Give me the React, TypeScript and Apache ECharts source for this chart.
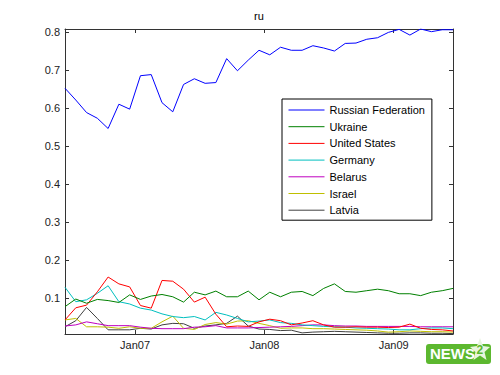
import { useEffect, useRef } from 'react';
import * as echarts from 'echarts';

const months = [
  'Jun06', 'Jul06', 'Aug06', 'Sep06', 'Oct06', 'Nov06', 'Dec06',
  'Jan07', 'Feb07', 'Mar07', 'Apr07', 'May07', 'Jun07', 'Jul07', 'Aug07', 'Sep07', 'Oct07', 'Nov07', 'Dec07',
  'Jan08', 'Feb08', 'Mar08', 'Apr08', 'May08', 'Jun08', 'Jul08', 'Aug08', 'Sep08', 'Oct08', 'Nov08', 'Dec08',
  'Jan09', 'Feb09', 'Mar09', 'Apr09', 'May09', 'Jun09',
];

const russia = [0.653, 0.622, 0.589, 0.574, 0.547, 0.611, 0.598, 0.686, 0.689, 0.615, 0.591, 0.663, 0.678, 0.666, 0.668, 0.731, 0.699, 0.727, 0.753, 0.741, 0.761, 0.753, 0.753, 0.765, 0.759, 0.751, 0.771, 0.772, 0.782, 0.786, 0.8, 0.808, 0.793, 0.809, 0.802, 0.807, 0.807];
const ukraine = [0.078, 0.098, 0.087, 0.097, 0.094, 0.089, 0.109, 0.097, 0.106, 0.11, 0.104, 0.09, 0.116, 0.109, 0.119, 0.104, 0.104, 0.119, 0.096, 0.116, 0.104, 0.116, 0.118, 0.107, 0.126, 0.138, 0.118, 0.116, 0.12, 0.124, 0.12, 0.112, 0.112, 0.107, 0.116, 0.12, 0.126];
const unitedStates = [0.043, 0.075, 0.082, 0.117, 0.156, 0.138, 0.13, 0.081, 0.074, 0.147, 0.145, 0.124, 0.09, 0.103, 0.058, 0.025, 0.027, 0.026, 0.038, 0.045, 0.041, 0.03, 0.035, 0.041, 0.03, 0.024, 0.024, 0.025, 0.024, 0.024, 0.023, 0.024, 0.032, 0.021, 0.018, 0.017, 0.014];
const germany = [0.129, 0.091, 0.096, 0.113, 0.133, 0.091, 0.085, 0.074, 0.069, 0.059, 0.052, 0.049, 0.052, 0.043, 0.063, 0.056, 0.047, 0.038, 0.04, 0.043, 0.036, 0.034, 0.03, 0.028, 0.026, 0.025, 0.024, 0.022, 0.021, 0.02, 0.019, 0.017, 0.017, 0.02, 0.022, 0.022, 0.02];
const belarus = [0.027, 0.03, 0.038, 0.033, 0.028, 0.028, 0.028, 0.024, 0.021, 0.02, 0.02, 0.02, 0.024, 0.025, 0.028, 0.022, 0.022, 0.022, 0.023, 0.024, 0.025, 0.026, 0.028, 0.03, 0.03, 0.028, 0.027, 0.027, 0.026, 0.026, 0.026, 0.026, 0.026, 0.025, 0.025, 0.025, 0.025];
const israel = [0.043, 0.047, 0.025, 0.025, 0.024, 0.021, 0.025, 0.021, 0.021, 0.038, 0.053, 0.021, 0.018, 0.031, 0.036, 0.032, 0.04, 0.041, 0.034, 0.028, 0.021, 0.022, 0.022, 0.02, 0.02, 0.019, 0.018, 0.017, 0.016, 0.014, 0.011, 0.012, 0.014, 0.013, 0.012, 0.012, 0.011];
const latvia = [0.025, 0.041, 0.076, 0.047, 0.017, 0.017, 0.017, 0.021, 0.019, 0.03, 0.034, 0.033, 0.021, 0.027, 0.03, 0.034, 0.053, 0.027, 0.019, 0.018, 0.015, 0.016, 0.009, 0.011, 0.012, 0.013, 0.012, 0.011, 0.01, 0.009, 0.008, 0.008, 0.009, 0.009, 0.008, 0.008, 0.007];

const seriesNames = ['Russian Federation', 'Ukraine', 'United States', 'Germany', 'Belarus', 'Israel', 'Latvia'];
const seriesValues = [russia, ukraine, unitedStates, germany, belarus, israel, latvia];
const seriesColors = ['#0000ff', '#008000', '#ff0000', '#00bfbf', '#bf00bf', '#bfbf00', '#404040'];

const xTickPos = [6.5, 18.5, 30.5];
const xTickLabels = ['Jan07', 'Jan08', 'Jan09'];
const yTicks = [0.1, 0.2, 0.3, 0.4, 0.5, 0.6, 0.7, 0.8];
const yMin = 0.006;
const yMax = 0.809;

const FONT = '"Liberation Sans", Arial, Helvetica, sans-serif';
const AXIS_COLOR = '#333333';

export default function App() {
  const ref = useRef<HTMLDivElement>(null);

  useEffect(() => {
    if (!ref.current) return;
    const chart = echarts.init(ref.current, undefined, { renderer: 'svg' });

    const xLabelFor = (v: number) => {
      const k = xTickPos.findIndex((p) => Math.abs(p - v) < 1e-6);
      return k >= 0 ? xTickLabels[k] : '';
    };

    const baseX = {
      type: 'value' as const,
      min: 0,
      max: months.length - 1,
      splitLine: { show: false },
      axisLine: { show: true, onZero: false, lineStyle: { color: AXIS_COLOR, width: 1 } },
    };
    const baseY = {
      type: 'value' as const,
      min: yMin,
      max: yMax,
      splitLine: { show: false },
      axisLine: { show: true, onZero: false, lineStyle: { color: AXIS_COLOR, width: 1 } },
    };

    chart.setOption({
      animation: false,
      backgroundColor: '#ffffff',
      title: {
        text: 'ru',
        left: 259,
        top: 10,
        textAlign: 'center',
        padding: 0,
        textStyle: { fontSize: 11, fontWeight: 'normal', color: '#000', fontFamily: FONT },
      },
      grid: { left: 65, right: 47, top: 29, bottom: 41, containLabel: false },
      xAxis: [
        {
          ...baseX,
          position: 'bottom',
          axisTick: { show: true, inside: true, length: 4, customValues: xTickPos, lineStyle: { color: AXIS_COLOR } },
          axisLabel: {
            show: true,
            customValues: xTickPos,
            margin: 5,
            formatter: (v: number) => xLabelFor(v),
            fontSize: 11,
            color: '#222',
            fontFamily: FONT,
          },
        },
        {
          ...baseX,
          position: 'top',
          axisTick: { show: true, inside: true, length: 4, customValues: xTickPos, lineStyle: { color: AXIS_COLOR } },
          axisLabel: { show: false },
        },
      ],
      yAxis: [
        {
          ...baseY,
          position: 'left',
          axisTick: { show: true, inside: true, length: 4, customValues: yTicks, lineStyle: { color: AXIS_COLOR } },
          axisLabel: {
            show: true,
            customValues: yTicks,
            margin: 5,
            formatter: (v: number) => v.toFixed(1),
            fontSize: 11,
            color: '#222',
            fontFamily: FONT,
          },
        },
        {
          ...baseY,
          position: 'right',
          axisTick: { show: true, inside: true, length: 4, customValues: yTicks, lineStyle: { color: AXIS_COLOR } },
          axisLabel: { show: false },
        },
      ],
      legend: {
        data: seriesNames,
        orient: 'vertical',
        left: 282,
        top: 99,
        padding: [5, 7, 4, 6],
        itemWidth: 36,
        itemHeight: 10,
        itemGap: 4.7,
        itemStyle: { opacity: 0 },
        lineStyle: { width: 1 },
        borderColor: '#000',
        borderWidth: 1,
        backgroundColor: '#fff',
        textStyle: { fontSize: 11, color: '#000', fontFamily: FONT, lineHeight: 12 },
      },
      series: seriesNames.map((name, s) => ({
        name,
        type: 'line',
        xAxisIndex: 0,
        yAxisIndex: 0,
        symbol: 'none',
        showSymbol: false,
        data: seriesValues[s].map((v, i) => [i, v]),
        lineStyle: { color: seriesColors[s], width: 1 },
        itemStyle: { color: seriesColors[s] },
        z: 10 - s,
      })),
      graphic: [
        {
          type: 'group',
          left: 426,
          top: 338,
          children: [
            {
              type: 'rect',
              shape: { x: 0, y: 6, width: 65, height: 20, r: 3 },
              style: { fill: '#5cb82f' },
            },
            {
              type: 'text',
              x: 4,
              y: 8,
              style: {
                text: 'NEWS',
                fill: '#ffffff',
                font: 'bold 15px "Liberation Sans Narrow", "Liberation Sans", Arial, sans-serif',
              },
            },
            {
              type: 'polygon',
              shape: {
                points: [[54, 0], [57, 8], [64, 9], [58.5, 14], [60.5, 22], [54, 17.5], [47.5, 22], [49.5, 14], [44, 9], [51, 8]],
              },
              style: { fill: '#e8f5e0' },
            },
            {
              type: 'text',
              x: 50.5,
              y: 6,
              style: { text: '2', fill: '#5cb82f', font: 'bold 12px "Liberation Sans", Arial, sans-serif' },
            },
          ],
        },
      ],
    });

    return () => chart.dispose();
  }, []);

  return (
    <div
      ref={ref}
      style={{ position: 'fixed', left: 0, top: 0, width: 500, height: 375, background: '#fff' }}
    />
  );
}
